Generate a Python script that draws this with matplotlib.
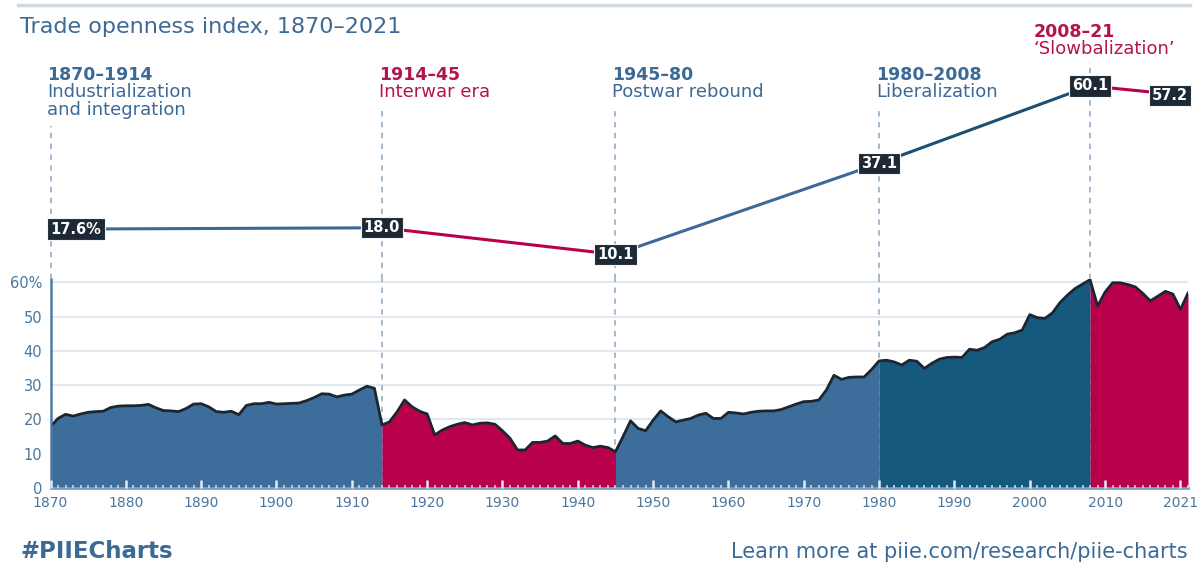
import matplotlib

matplotlib.use("Agg")
import matplotlib.pyplot as plt
import numpy as np
from matplotlib.lines import Line2D

plt.rcParams["font.family"] = ["DejaVu Sans"]

# ---- data ----
years = np.arange(1870, 2022)
openness = [
    17.9, 20.3, 21.5, 21.0, 21.6, 22.1, 22.3, 22.4, 23.5, 23.9,  # 1870s
    24.0, 24.0, 24.1, 24.4, 23.4, 22.6, 22.5, 22.3, 23.2, 24.5,  # 1880s
    24.6, 23.7, 22.3, 22.1, 22.4, 21.4, 24.1, 24.6, 24.6, 25.0,  # 1890s
    24.5, 24.6, 24.7, 24.8, 25.5, 26.4, 27.5, 27.4, 26.6, 27.1,  # 1900s
    27.4, 28.6, 29.7, 29.1, 18.4, 19.3, 22.2, 25.7, 23.7, 22.4,  # 1910s
    21.6, 15.5, 16.9, 17.9, 18.6, 19.1, 18.4, 18.9, 19.0, 18.6,  # 1920s
    16.7, 14.5, 11.1, 11.1, 13.3, 13.3, 13.7, 15.2, 13.0, 13.0,  # 1930s
    13.7, 12.5, 11.8, 12.2, 11.8, 10.6, 15.0, 19.6, 17.4, 16.7,  # 1940s
    19.8, 22.5, 20.8, 19.3, 19.8, 20.3, 21.3, 21.8, 20.3, 20.3,  # 1950s
    22.1, 21.9, 21.6, 22.1, 22.4, 22.5, 22.5, 22.9, 23.7, 24.5,  # 1960s
    25.2, 25.3, 25.7, 28.6, 32.9, 31.7, 32.3, 32.4, 32.4, 34.6,  # 1970s
    37.1, 37.3, 36.8, 35.9, 37.3, 37.0, 34.9, 36.4, 37.6, 38.1,  # 1980s
    38.2, 38.1, 40.5, 40.2, 41.0, 42.7, 43.4, 44.9, 45.3, 46.1,  # 1990s
    50.6, 49.7, 49.5, 51.1, 54.1, 56.3, 58.2, 59.5, 60.8, 53.1,  # 2000s
    57.2, 59.9, 59.9, 59.4, 58.7, 56.8, 54.6, 56.0, 57.4, 56.6,  # 2010s
    52.1, 56.9,                                                  # 2020s
]

period_bounds = [1870, 1914, 1945, 1980, 2008, 2021]
period_avgs = [17.6, 18.0, 10.1, 37.1, 60.1, 57.2]
avg_labels = ["17.6%", "18.0", "10.1", "37.1", "60.1", "57.2"]
period_titles = ["1870–1914", "1914–45", "1945–80", "1980–2008", "2008–21"]
period_names = [
    "Industrialization\nand integration",
    "Interwar era",
    "Postwar rebound",
    "Liberalization",
    "‘Slowbalization’",
]

yticks = [0, 10, 20, 30, 40, 50, 60]
ytick_labels = ["0", "10", "20", "30", "40", "50", "60%"]
# the last labelled tick sits on the 2020 gridline but reads "2021"
xticks = [1870, 1880, 1890, 1900, 1910, 1920, 1930, 1940, 1950, 1960,
          1970, 1980, 1990, 2000, 2010, 2020]
xtick_labels = ["1870", "1880", "1890", "1900", "1910", "1920", "1930",
                "1940", "1950", "1960", "1970", "1980", "1990", "2000",
                "2010", "2021"]

# ---- styling ----
BLUE = "#3c6d9b"
DARK_BLUE = "#155a7e"
RED = "#b8004b"
TEXT_BLUE = "#3c6a96"
TEXT_RED = "#b3134f"
fill_colors = [BLUE, RED, BLUE, DARK_BLUE, RED]
line_colors = ["#3b6a97", RED, "#3b6a97", "#1c4f74", RED]
title_colors = [TEXT_BLUE, TEXT_RED, TEXT_BLUE, TEXT_BLUE, TEXT_RED]
dash_tops = [0.70, 0.79, 0.79, 0.79, 0.99]

W, H = 1202, 566
fig = plt.figure(figsize=(W / 100, H / 100), dpi=100)
fig.patch.set_facecolor("white")

ax_left = 50.5 / W
ax_width = (1188 - 50.5) / W
ax = fig.add_axes([ax_left, 1 - 488 / H, ax_width, (488 - 279) / H])
ax_top = fig.add_axes([ax_left, 1 - 279 / H, ax_width, (279 - 60) / H])

vals = np.array(openness)

# bottom: area chart coloured by period
for i in range(len(period_bounds) - 1):
    m = (years >= period_bounds[i]) & (years <= period_bounds[i + 1])
    ax.fill_between(years[m], 0, vals[m], color=fill_colors[i], lw=0, zorder=1)
ax.plot(years, vals, color="#1b2631", lw=2, zorder=2,
        solid_joinstyle="round")

for yt in yticks[1:]:
    ax.axhline(yt, color="#e1e8ef", lw=1.5, zorder=0.5)
for yr in period_bounds[:-1]:
    ax.axvline(yr, color="#9fb4c9", lw=1.3, ls=(0, (3, 3)), zorder=0.6)

ax.set_xlim(1870, 2021)
ax.set_ylim(0, 61)
ax.set_axisbelow(False)
ax.set_yticks(yticks)
ax.set_yticklabels(ytick_labels)
ax.set_xticks(xticks)
ax.set_xticklabels(xtick_labels)
ax.set_xticks(years, minor=True)
ax.tick_params(axis="x", which="major", direction="in", length=6, width=1.8,
               color="#e3eaf1", labelsize=10, labelcolor="#4a76a0", pad=6)
ax.tick_params(axis="x", which="minor", direction="in", length=2.5,
               width=1.1, color="#d5dfe9")
ax.tick_params(axis="y", length=0, labelsize=10.5, labelcolor="#4a76a0",
               pad=6)
for s in ["top", "right"]:
    ax.spines[s].set_visible(False)
ax.spines["left"].set_color("#4f7aa3")
ax.spines["left"].set_linewidth(1.8)
ax.spines["bottom"].set_color("#7f9dbb")
ax.spines["bottom"].set_linewidth(2)

# top: period averages
ax_top.set_xlim(1870, 2021)
ax_top.set_ylim(2.8, 67.8)
ax_top.axis("off")
for i in range(len(period_bounds) - 1):
    ax_top.plot(period_bounds[i:i + 2], period_avgs[i:i + 2],
                color=line_colors[i], lw=2.2, zorder=2,
                solid_capstyle="round")
    ax_top.axvline(period_bounds[i], ymin=0, ymax=dash_tops[i],
                   color="#9fb4c9", lw=1.3, ls=(0, (3, 3)), zorder=0.6,
                   clip_on=False)

for i, (yr, v, lab) in enumerate(zip(period_bounds, period_avgs, avg_labels)):
    ha = "center"
    if i == 0:
        ha = "left"
    elif i == len(period_bounds) - 1:
        ha = "right"
    ax_top.text(yr, v, lab, ha=ha, va="center", color="white",
                fontsize=10.5, fontweight="bold", zorder=3,
                bbox=dict(boxstyle="square,pad=0.22", fc="#1d2a35",
                          ec="#f2f5f8", lw=0.8))

xt = ax_top.get_xaxis_transform()
for i, (title, name) in enumerate(zip(period_titles, period_names)):
    if i == len(period_titles) - 1:
        x, y0 = 2000.5, 1.13
    else:
        x, y0 = period_bounds[i] - 0.4, 0.931
    ax_top.text(x, y0, title, transform=xt, ha="left", va="center",
                fontsize=12.5, fontweight="bold", color=title_colors[i])
    ax_top.text(x, y0 - 0.038, name, transform=xt, ha="left", va="top",
                fontsize=13, color=title_colors[i], linespacing=1.0)

# header / footer
fig.add_artist(Line2D([18 / W, 1190 / W], [1 - 5 / H, 1 - 5 / H],
                      color="#cfd9e3", lw=2.5))
fig.text(20 / W, 1 - 27 / H, "Trade openness index, 1870–2021",
         fontsize=16, color=TEXT_BLUE, va="center")
fig.text(20 / W, 1 - 552 / H, "#PIIECharts", fontsize=16.5,
         fontweight="bold", color=TEXT_BLUE, va="center")
fig.text(1188 / W, 1 - 552 / H, "Learn more at piie.com/research/piie-charts",
         fontsize=15, color=TEXT_BLUE, va="center", ha="right")

fig.savefig("out.png", dpi=100, facecolor="white")
